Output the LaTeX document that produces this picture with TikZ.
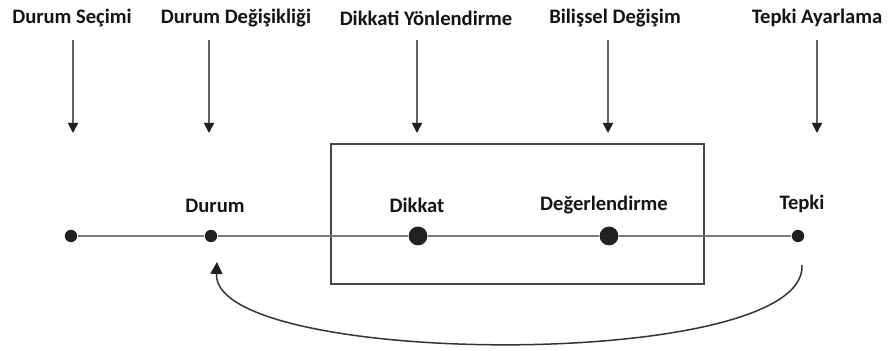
\documentclass[tikz,border=0pt]{standalone}
\usepackage{fontspec}
\setmainfont{Carlito}
\usetikzlibrary{arrows.meta}
\tikzset{
  dot/.style={circle,fill=black!87,inner sep=0pt,minimum size=6.2pt},
  bigdot/.style={dot,minimum size=9.4pt},
  lab/.style={font=\fontsize{10.3}{12}\selectfont\bfseries,text=black!92,inner sep=1pt},
  down/.style={draw=black!62,line width=0.8pt,-{Triangle[length=5pt,width=5pt,color=black!88]}},
  back/.style={draw=black!80,line width=0.75pt,-{Triangle[length=6pt,width=6pt,color=black!88]}}
}

\begin{document}
\begin{tikzpicture}[x=0.5pt,y=-0.5pt]
\useasboundingbox (0,0) rectangle (889,351);
%box:
\draw[black!72,line width=0.8pt] (331,144) rectangle (704,284);
%top row:
\node[lab] (secimlab) at (72,18) {Durum Seçimi};
\node[lab] (degisiklab) at (236,18) {Durum Değişikliği};
\node[lab] (dikkatilab) at (426,18) {Dikkati Yönlendirme};
\node[lab] (bilislab) at (615,18) {Bilişsel Değişim};
\node[lab] (ayarlab) at (817,18) {Tepki Ayarlama};
\coordinate (s1) at (73,40);   \coordinate (e1) at (73,133);
\coordinate (s2) at (209,40);  \coordinate (e2) at (209,133);
\coordinate (s3) at (417,40);  \coordinate (e3) at (417,133);
\coordinate (s4) at (608,40);  \coordinate (e4) at (608,133);
\coordinate (s5) at (817,40);  \coordinate (e5) at (817,133);
\draw[down] (s1) -- (e1);
\draw[down] (s2) -- (e2);
\draw[down] (s3) -- (e3);
\draw[down] (s4) -- (e4);
\draw[down] (s5) -- (e5);
%middle row:
\node[dot] (secim) at (71,236) {};
\node[dot] (durum) at (211,236) {};
\node[bigdot] (dikkat) at (418,236) {};
\node[bigdot] (deger) at (609,236) {};
\node[dot] (tepki) at (798,236) {};
\node[lab] (durumlab) at (215,206) {Durum};
\node[lab] (dikkatlab) at (417,205) {Dikkat};
\node[lab] (degerlab) at (604,205) {Değerlendirme};
\node[lab] (tepkilab) at (802,204) {Tepki};
\draw[black!52,line width=1.05pt] (secim) -- (durum) -- (dikkat) -- (deger) -- (tepki);
%bottom curve:
\coordinate (geri1) at (802,265);
\coordinate (geri2) at (217,262);
\draw[back] (geri1) .. controls (808,372) and (212,368) .. (geri2);
\end{tikzpicture}
\end{document}
